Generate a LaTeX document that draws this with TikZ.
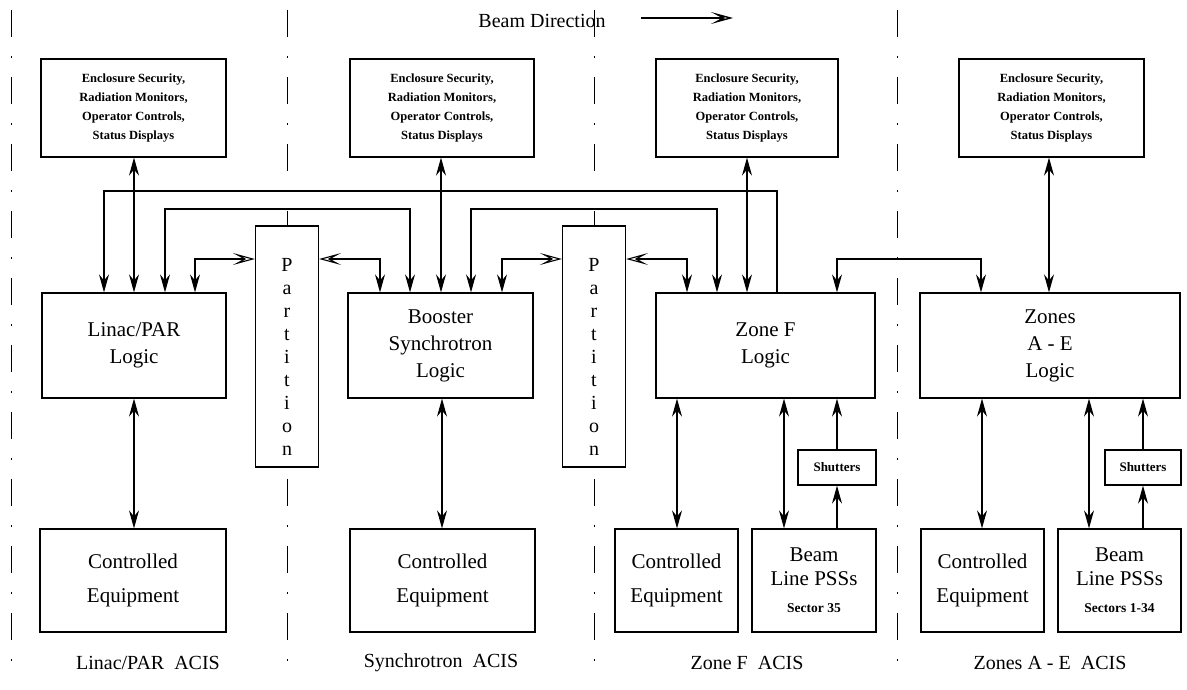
\documentclass[tikz,border=0pt]{standalone}
\usepackage{fontspec}
\setmainfont{Liberation Serif}
\usetikzlibrary{arrows.meta}
\tikzset{
  fhead/.tip={Stealth[length=18pt,width=10pt,inset=6pt]},
  chev/.tip={Stealth[open,length=22pt,width=12pt,inset=11pt]},
  box/.style={draw,line width=1.2pt,fill=white,inner sep=0pt,align=center},
  sbox/.style={box,minimum height=98pt,font=\bfseries\fontsize{12.5}{19}\selectfont},
  lbox/.style={box,minimum height=105pt,font=\fontsize{21}{27}\selectfont},
  cbox/.style={box,minimum height=103pt,font=\fontsize{21}{34}\selectfont},
  bbox/.style={box,minimum height=103pt,font=\fontsize{21}{24}\selectfont},
  pbox/.style={box,minimum width=63pt,minimum height=241pt},
  ptext/.style={font=\fontsize{20}{23}\selectfont,align=center,inner sep=0pt},
  shbox/.style={box,minimum height=35pt,font=\bfseries\fontsize{13}{15}\selectfont},
  conn/.style={line width=1.1pt},
  divider/.style={line width=0.9pt,dash pattern=on 27pt off 19pt on 2pt off 19pt},
  lab/.style={font=\fontsize{20}{24}\selectfont,inner sep=0pt},
}
\begin{document}
\begin{tikzpicture}[x=1pt,y=-1pt]
\useasboundingbox (0,0) rectangle (1187,690);
% dividers between the ACIS columns
\foreach \n/\x in {d0/11,d1/287,d2/594,d3/897}{
  \coordinate (\n t) at (\x,10);
  \coordinate (\n b) at (\x,680);
  \draw[divider] (\n t) -- (\n b);
}
% beam direction
\node[lab] (beam) at (542,21) {Beam Direction};
\coordinate (bdA) at (641,18);
\coordinate (bdB) at (733,18);
\draw[conn,line width=1.4pt,-chev] (bdA) -- (bdB);
% status boxes
\node[sbox,minimum width=185pt] (S1) at (133.5,108) {Enclosure Security,\\Radiation Monitors,\\Operator Controls,\\Status Displays};
\node[sbox,minimum width=184pt] (S2) at (442,108) {Enclosure Security,\\Radiation Monitors,\\Operator Controls,\\Status Displays};
\node[sbox,minimum width=182pt] (S3) at (747,108) {Enclosure Security,\\Radiation Monitors,\\Operator Controls,\\Status Displays};
\node[sbox,minimum width=185pt] (S4) at (1051.5,108) {Enclosure Security,\\Radiation Monitors,\\Operator Controls,\\Status Displays};
% logic boxes
\node[lbox,minimum width=184pt] (L1) at (134,345.5) {Linac/PAR\\Logic};
\node[lbox,minimum width=185pt] (L2) at (440.5,345.5) {Booster\\Synchrotron\\Logic};
\node[lbox,minimum width=219pt] (L3) at (765.5,345.5) {Zone F\\Logic};
\node[lbox,minimum width=260pt] (L4) at (1050,345.5) {Zones\\A - E\\Logic};
% partitions
\node[pbox] (P1) at (287,346.5) {};
\node[ptext] (P1t) at (287,357) {P\\a\\r\\t\\i\\t\\i\\o\\n};
\node[pbox] (P2) at (594,346.5) {};
\node[ptext] (P2t) at (594,357) {P\\a\\r\\t\\i\\t\\i\\o\\n};
% equipment boxes
\node[cbox,minimum width=186pt] (C1) at (133,580.5) {Controlled\\Equipment};
\node[cbox,minimum width=185pt] (C2) at (442.5,580.5) {Controlled\\Equipment};
\node[cbox,minimum width=123pt] (C3) at (676.5,580.5) {Controlled\\Equipment};
\node[bbox,minimum width=124pt] (B3) at (814,580.5) {Beam\\Line PSSs\\[3pt]{\bfseries\fontsize{13.5}{16}\selectfont Sector 35}};
\node[shbox,minimum width=78pt] (Sh3) at (837,467.5) {Shutters};
\node[cbox,minimum width=123pt] (C4) at (982.5,580.5) {Controlled\\Equipment};
\node[bbox,minimum width=123pt] (B4) at (1119.5,580.5) {Beam\\Line PSSs\\[3pt]{\bfseries\fontsize{13.5}{16}\selectfont Sectors 1-34}};
\node[shbox,minimum width=76pt] (Sh4) at (1143,467.5) {Shutters};
% column labels
\node[lab] (A1) at (148,663) {Linac/PAR\ \ ACIS};
\node[lab] (A2) at (441,663) {Synchrotron\ \ ACIS};
\node[lab] (A3) at (747,663) {Zone F\ \ ACIS};
\node[lab] (A4) at (1050,663) {Zones A - E\ \ ACIS};
% status <-> logic
\draw[conn,fhead-fhead] (S1.south -| 134,0) -- (L1.north -| 134,0);
\draw[conn,fhead-fhead] (S2.south -| 441,0) -- (L2.north -| 441,0);
\draw[conn,fhead-fhead] (S3.south -| 747,0) -- (L3.north -| 747,0);
\draw[conn,fhead-fhead] (S4.south -| 1049,0) -- (L4.north -| 1049,0);
% logic interconnections
\draw[conn,-fhead] (L3.north -| 777,0) -- (777,191) -- (104,191) -- (L1.north -| 104,0);
\draw[conn,fhead-fhead] (L1.north -| 165,0) -- (165,209) -- (410,209) -- (L2.north -| 410,0);
\draw[conn,fhead-fhead] (L2.north -| 471,0) -- (471,209) -- (717,209) -- (L3.north -| 717,0);
\draw[conn,fhead-chev] (L1.north -| 195,0) -- (195,259) -- (P1.west |- 0,259);
\draw[conn,chev-fhead] (P1.east |- 0,259) -- (380,259) -- (L2.north -| 380,0);
\draw[conn,fhead-chev] (L2.north -| 502,0) -- (502,259) -- (P2.west |- 0,259);
\draw[conn,chev-fhead] (P2.east |- 0,259) -- (687,259) -- (L3.north -| 687,0);
\draw[conn,fhead-fhead] (L3.north -| 837,0) -- (837,259) -- (981,259) -- (L4.north -| 981,0);
% logic <-> equipment
\draw[conn,fhead-fhead] (L1.south -| 134,0) -- (C1.north -| 134,0);
\draw[conn,fhead-fhead] (L2.south -| 442,0) -- (C2.north -| 442,0);
\draw[conn,fhead-fhead] (L3.south -| 677,0) -- (C3.north -| 677,0);
\draw[conn,fhead-fhead] (L3.south -| 784,0) -- (B3.north -| 784,0);
\draw[conn,-fhead] (B3.north -| 837,0) -- (Sh3.south);
\draw[conn,-fhead] (Sh3.north) -- (L3.south -| 837,0);
\draw[conn,fhead-fhead] (L4.south -| 982,0) -- (C4.north -| 982,0);
\draw[conn,fhead-fhead] (L4.south -| 1089,0) -- (B4.north -| 1089,0);
\draw[conn,-fhead] (B4.north -| 1143,0) -- (Sh4.south);
\draw[conn,-fhead] (Sh4.north) -- (L4.south -| 1143,0);
\end{tikzpicture}
\end{document}
